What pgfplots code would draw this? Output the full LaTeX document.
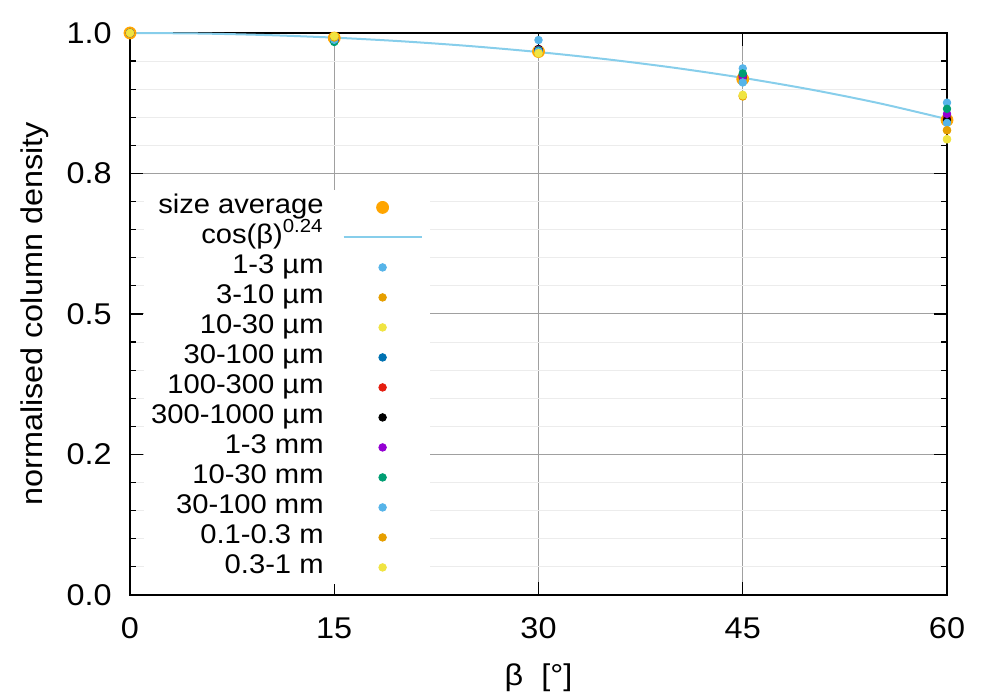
\documentclass[border=0pt]{standalone}
\usepackage{fontspec}
\setmainfont[FakeStretch=1.08]{Liberation Sans}
\usepackage{pgfplots}
\pgfplotsset{compat=1.18}
\definecolor{clb}{HTML}{56B4E9}
\definecolor{cor}{HTML}{E69F00}
\definecolor{cye}{HTML}{F0E442}
\definecolor{cbl}{HTML}{0072B2}
\definecolor{crd}{HTML}{E51E10}
\definecolor{cpu}{HTML}{9400D3}
\definecolor{cgr}{HTML}{009E73}
\definecolor{cavg}{HTML}{FFA500}
\definecolor{csky}{HTML}{87CEEB}
\definecolor{gridmaj}{HTML}{A0A0A0}
\definecolor{gridmin}{HTML}{ECECEC}
\pgfplotsset{
  legimg/.style={legend image code/.code={\draw[mark repeat=2,mark phase=2,##1] plot coordinates {(0pt,0pt)(19.5pt,0pt)(39pt,0pt)};}},
  dot/.style={only marks, mark=*, mark size=1.9pt, color=#1, mark options={draw=none, fill=#1}, legimg},
}
\begin{document}
\begin{tikzpicture}
\begin{axis}[
  scale only axis, width=408.5pt, height=281pt,
  xmin=0, xmax=60, ymin=0, ymax=1,
  clip=false,
  xtick={0,15,30,45,60},
  ytick={0,0.25,0.5,0.75,1},
  yticklabels={0.0,0.2,0.5,0.8,1.0},
  minor y tick num=4,
  tick align=inside,
  major tick length=6.5pt, minor tick length=3pt,
  xmajorgrids, ymajorgrids, yminorgrids,
  major grid style={color=gridmaj, line width=0.5pt},
  minor grid style={color=gridmin, line width=0.5pt},
  axis line style={line width=0.6pt},
  every tick/.style={black, line width=0.6pt},
  tick label style={font=\fontsize{15}{18}\selectfont, inner sep=0pt},
  /pgf/number format/assume math mode=true,
  xticklabel shift=11pt, yticklabel shift=9pt,
  xlabel={β\ \ [°]}, ylabel={normalised column density},
  label style={font=\fontsize{15}{18}\selectfont, inner sep=0pt},
  xlabel style={at={(axis description cs:0.5,-0.121)}, anchor=north},
  ylabel style={at={(axis description cs:-0.1163,0.5)}, anchor=center},
  legend plot pos=right,
  legend cell align=right,
  legend style={at={(rel axis cs:0.3672,0.7206)}, anchor=north east,
    draw=none, fill=white, inner xsep=3.5pt, inner ysep=1pt,
    font=\fontsize{13.5}{15}\selectfont, row sep=0pt, column sep=9.5pt,
    nodes={inner sep=0pt, text height=10.5pt, text depth=4.5pt}},
]
\coordinate (bl) at (rel axis cs:0,0);
\coordinate (tr) at (rel axis cs:1,1);
% size average
\addplot[only marks, mark=*, mark size=3pt, color=cavg, mark options={draw=none, fill=cavg}, legimg]
  coordinates {(0,1) (15,0.991) (30,0.967) (45,0.918) (60,0.845)};
\addlegendentry{size average}
% cos(beta)^0.24
\addplot[color=csky, line width=1pt, smooth, no marks, legimg]
  coordinates {(0,1) (5,0.999085) (10,0.996333) (15,0.991714) (20,0.985182) (25,0.976665)
   (30,0.966067) (35,0.953251) (40,0.938038) (45,0.920188) (50,0.899362) (55,0.875112) (60,0.846745)};
\addlegendentry{cos(β)\textsuperscript{0.24}}
\addplot[dot=clb] coordinates {(0,1) (15,0.990) (30,0.9875) (45,0.937) (60,0.876)};
\addlegendentry{1-3 µm}
\addplot[dot=cor] coordinates {(0,1) (15,0.992) (30,0.964) (45,0.888) (60,0.827)};
\addlegendentry{3-10 µm}
\addplot[dot=cye] coordinates {(0,1) (15,0.994) (30,0.964) (45,0.890) (60,0.811)};
\addlegendentry{10-30 µm}
\addplot[dot=cbl] coordinates {(0,1) (15,0.987) (30,0.969) (45,0.920) (60,0.850)};
\addlegendentry{30-100 µm}
\addplot[dot=crd] coordinates {(0,1) (15,0.987) (30,0.970) (45,0.922) (60,0.848)};
\addlegendentry{100-300 µm}
\addplot[dot=black] coordinates {(0,1) (15,0.987) (30,0.9715) (45,0.925) (60,0.845)};
\addlegendentry{300-1000 µm}
\addplot[dot=cpu] coordinates {(0,1) (15,0.986) (30,0.970) (45,0.924) (60,0.856)};
\addlegendentry{1-3 mm}
\addplot[dot=cgr] coordinates {(0,1) (15,0.984) (30,0.969) (45,0.928) (60,0.865)};
\addlegendentry{10-30 mm}
\addplot[dot=clb] coordinates {(0,1) (15,0.988) (30,0.967) (45,0.912) (60,0.840)};
\addlegendentry{30-100 mm}
\addplot[dot=cor] coordinates {(0,1) (15,0.992) (30,0.964) (45,0.887) (60,0.827)};
\addlegendentry{0.1-0.3 m}
\addplot[dot=cye] coordinates {(0,1) (15,0.994) (30,0.964) (45,0.889) (60,0.811)};
\addlegendentry{0.3-1 m}
\end{axis}
\pgfresetboundingbox
\path ([shift={(-65pt,-52.5pt)}]bl) rectangle ([shift={(26.5pt,16.5pt)}]tr);
\end{tikzpicture}
\end{document}
